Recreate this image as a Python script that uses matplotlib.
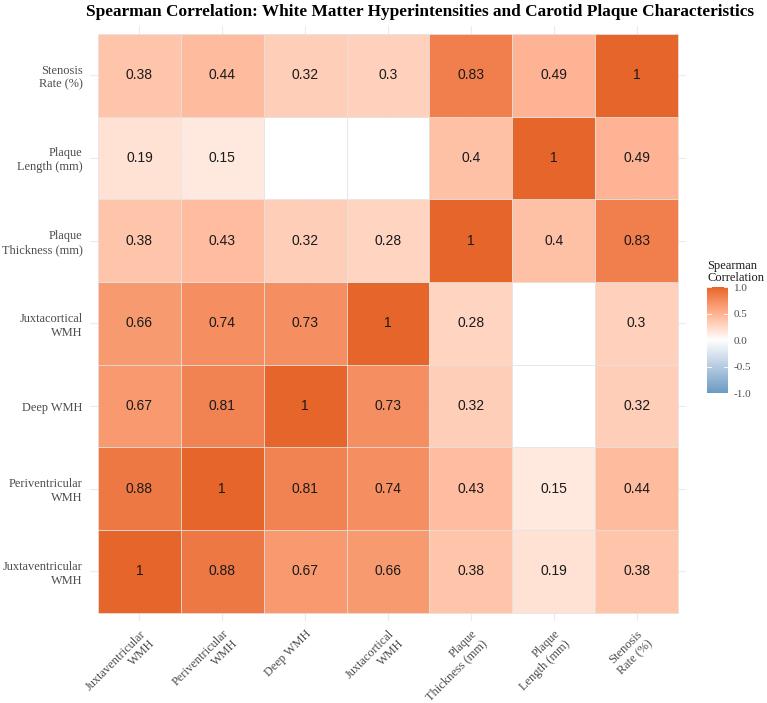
import numpy as np
import matplotlib
matplotlib.use("Agg")
import matplotlib.pyplot as plt
from matplotlib.colors import ListedColormap, to_rgb
from matplotlib.patches import Rectangle

# ---------------- data ----------------
labels = ["Juxtaventricular\nWMH", "Periventricular\nWMH", "Deep WMH",
          "Juxtacortical\nWMH", "Plaque\nThickness (mm)", "Plaque\nLength (mm)",
          "Stenosis\nRate (%)"]
# rows listed bottom -> top, columns left -> right (same variable order); nan = blank
row_juxtaventricular = [1.00, 0.88, 0.67, 0.66, 0.38, 0.19, 0.38]
row_periventricular = [0.88, 1.00, 0.81, 0.74, 0.43, 0.15, 0.44]
row_deep = [0.67, 0.81, 1.00, 0.73, 0.32, np.nan, 0.32]
row_juxtacortical = [0.66, 0.74, 0.73, 1.00, 0.28, np.nan, 0.30]
row_thickness = [0.38, 0.43, 0.32, 0.28, 1.00, 0.40, 0.83]
row_length = [0.19, 0.15, np.nan, np.nan, 0.40, 1.00, 0.49]
row_stenosis = [0.38, 0.44, 0.32, 0.30, 0.83, 0.49, 1.00]
matrix = np.array([row_juxtaventricular, row_periventricular, row_deep,
                   row_juxtacortical, row_thickness, row_length, row_stenosis])

title = "Spearman Correlation: White Matter Hyperintensities and Carotid Plaque Characteristics"
legend_title = "Spearman\nCorrelation"
cbar_ticks = [-1.0, -0.5, 0.0, 0.5, 1.0]

# ---------------- colour scale (Lab interpolation like ggplot gradient2) ----------------
def srgb_to_lab(c):
    c = np.asarray(c, float)
    lin = np.where(c <= 0.04045, c / 12.92, ((c + 0.055) / 1.055) ** 2.4)
    M = np.array([[0.4124, 0.3576, 0.1805], [0.2126, 0.7152, 0.0722], [0.0193, 0.1192, 0.9505]])
    xyz = M @ lin
    xyz = xyz / np.array([0.95047, 1.0, 1.08883])
    f = np.where(xyz > 0.008856, np.cbrt(xyz), 7.787 * xyz + 16 / 116)
    return np.array([116 * f[1] - 16, 500 * (f[0] - f[1]), 200 * (f[1] - f[2])])

def lab_to_srgb(lab):
    L, a, b = lab
    fy = (L + 16) / 116
    fx = fy + a / 500
    fz = fy - b / 200
    f = np.array([fx, fy, fz])
    xyz = np.where(f ** 3 > 0.008856, f ** 3, (f - 16 / 116) / 7.787)
    xyz = xyz * np.array([0.95047, 1.0, 1.08883])
    Minv = np.array([[3.2406, -1.5372, -0.4986], [-0.9689, 1.8758, 0.0415], [0.0557, -0.2040, 1.0570]])
    lin = Minv @ xyz
    c = np.where(lin <= 0.0031308, 12.92 * lin, 1.055 * np.clip(lin, 0, None) ** (1 / 2.4) - 0.055)
    return np.clip(c, 0, 1)

low, mid, high = srgb_to_lab(to_rgb("#6A9BC3")), srgb_to_lab(to_rgb("#FFFFFF")), srgb_to_lab(to_rgb("#E6652A"))
cols = []
for t in np.linspace(-1, 1, 256):
    if t < 0:
        lab = mid + (low - mid) * (-t)
    else:
        lab = mid + (high - mid) * t
    cols.append(lab_to_srgb(lab))
cmap = ListedColormap(cols)

def color_for(v):
    return cmap((v + 1) / 2)

# ---------------- figure ----------------
W, H = 767, 703
fig = plt.figure(figsize=(W / 100, H / 100), dpi=100)
serif = ["Liberation Serif", "DejaVu Serif"]
sans = ["Liberation Sans", "DejaVu Sans"]

def px_axes(x0, y0, x1, y1):
    return [x0 / W, 1 - y1 / H, (x1 - x0) / W, (y1 - y0) / H]

ax = fig.add_axes(px_axes(89.7, 25.7, 686.3, 621.0))
n = len(labels)
ax.set_xlim(-0.6, n - 0.4)
ax.set_ylim(-0.6, n - 0.4)
for s in ax.spines.values():
    s.set_visible(False)
ax.set_xticks(range(n))
ax.set_yticks(range(n))
ax.grid(True, color="#EBEBEB", linewidth=0.8, zorder=0)
ax.set_axisbelow(True)
ax.tick_params(length=0, pad=5, colors="#4D4D4D")
ax.set_yticklabels(labels, family=serif, fontsize=8.9, color="#4D4D4D", ha="right", multialignment="right")
ax.set_xticklabels(labels, family=serif, fontsize=8.9, color="#4D4D4D", rotation=45,
                   ha="right", va="top", rotation_mode="anchor", multialignment="right")

for i in range(n):
    for j in range(n):
        v = matrix[i, j]
        fc = "white" if np.isnan(v) else color_for(v)
        ax.add_patch(Rectangle((j - 0.5, i - 0.5), 1, 1, facecolor=fc, edgecolor="#E2E2E2",
                               linewidth=0.5, zorder=2))
        if not np.isnan(v):
            ax.text(j, i, f"{v:g}", ha="center", va="center", fontsize=10, family=sans,
                    color="#1A1A1A", zorder=3)

fig.text(420 / W, 1 - 12 / H, title, ha="center", va="center", family=serif,
         fontweight="bold", fontsize=12.4, color="black")

# colorbar
cax = fig.add_axes(px_axes(707, 287, 728, 393))
grad = np.linspace(-1, 1, 256).reshape(-1, 1)
cax.imshow(grad, cmap=cmap, vmin=-1, vmax=1, aspect="auto", origin="lower", extent=[0, 1, -1, 1])
cax.set_xlim(0, 1)
cax.set_ylim(-1, 1)
for s in cax.spines.values():
    s.set_visible(False)
cax.set_xticks([])
cax.yaxis.tick_right()
cax.set_yticks(cbar_ticks)
cax.set_yticklabels([f"{t:.1f}" for t in cbar_ticks], family=serif, fontsize=8, color="#4D4D4D")
cax.tick_params(axis="y", length=0, pad=4)
for t in cbar_ticks:
    cax.plot([0, 0.2], [t, t], color="white", lw=0.6)
    cax.plot([0.8, 1], [t, t], color="white", lw=0.6)
fig.text(707 / W, 1 - 272 / H, legend_title, ha="left", va="center", family=serif,
         fontsize=9, color="#1A1A1A", linespacing=0.95)

fig.savefig("out.png", dpi=100)
